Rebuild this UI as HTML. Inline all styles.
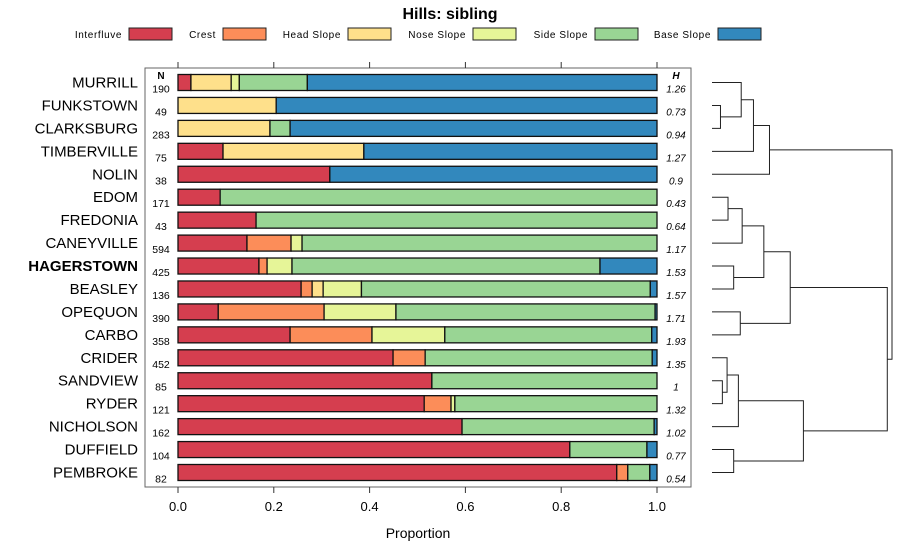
<!DOCTYPE html>
<html><head><meta charset="utf-8"><style>
body{margin:0;background:#fff;}
svg{display:block;font-family:"Liberation Sans",sans-serif;}
</style></head><body>
<svg id="chart" width="900" height="560" viewBox="0 0 900 560" xmlns="http://www.w3.org/2000/svg">
<text x="450" y="19" text-anchor="middle" font-size="16" font-weight="bold">Hills: sibling</text>
<g id="legend"></g>
<rect x="145" y="68" width="546" height="419" fill="none" stroke="#666" stroke-width="1"/>
<g id="bars"></g>
<g id="axis"></g>
<g id="dendro"></g>
<text x="418" y="538" text-anchor="middle" font-size="14">Proportion</text>
</svg>
<script>
const categories = ["Interfluve","Crest","Head Slope","Nose Slope","Side Slope","Base Slope"];
const colors = ["#d53e4f","#fc8d59","#fee08b","#e6f598","#99d594","#3288bd"];
const series = ["MURRILL","FUNKSTOWN","CLARKSBURG","TIMBERVILLE","NOLIN","EDOM","FREDONIA","CANEYVILLE","HAGERSTOWN","BEASLEY","OPEQUON","CARBO","CRIDER","SANDVIEW","RYDER","NICHOLSON","DUFFIELD","PEMBROKE"];
const nValues = [190,49,283,75,38,171,43,594,425,136,390,358,452,85,121,162,104,82];
const hValues = ["1.26","0.73","0.94","1.27","0.9","0.43","0.64","1.17","1.53","1.57","1.71","1.93","1.35","1","1.32","1.02","0.77","0.54"];
const proportions = [
 [0.027,0,0.084,0.017,0.142,0.730],
 [0,0,0.205,0,0,0.795],
 [0,0,0.192,0,0.042,0.766],
 [0.094,0,0.294,0,0,0.612],
 [0.317,0,0,0,0,0.683],
 [0.088,0,0,0,0.912,0],
 [0.163,0,0,0,0.837,0],
 [0.144,0.092,0,0.023,0.741,0],
 [0.169,0.017,0,0.052,0.643,0.119],
 [0.257,0.023,0.023,0.080,0.603,0.014],
 [0.084,0.221,0,0.150,0.541,0.004],
 [0.234,0.171,0,0.152,0.432,0.011],
 [0.449,0.067,0,0,0.474,0.010],
 [0.530,0,0,0,0.470,0],
 [0.514,0.056,0,0.008,0.422,0],
 [0.593,0,0,0,0.401,0.006],
 [0.818,0,0,0,0.161,0.021],
 [0.916,0.023,0,0,0.046,0.015]
];
const xTicks = [0,0.2,0.4,0.6,0.8,1.0];
const xTickLabels = ["0.0","0.2","0.4","0.6","0.8","1.0"];
// dendrogram merges: [left, right, height]; negative = leaf index (-(i+1)), positive = merge index (1-based)
const merges = [
 [-2,-3,0.09],[-1,1,0.31],[2,-4,0.44],[3,-5,0.61],
 [-6,-7,0.17],[5,-8,0.32],[-9,-10,0.23],[6,7,0.55],[-11,-12,0.30],[8,9,0.83],
 [-14,-15,0.11],[-13,11,0.16],[12,-16,0.28],[-17,-18,0.23],[13,14,0.97],[10,15,1.86],[4,16,1.91]
];
const NS="http://www.w3.org/2000/svg";
function mk(tag,attrs,parent){const e=document.createElementNS(NS,tag);for(const k in attrs)e.setAttribute(k,attrs[k]);parent.appendChild(e);return e;}
const x0=178,x1=657;
function xs(v){return x0+(x1-x0)*v;}
function ys(i){return 82.5+i*(472.5-82.5)/17;}
const leg=document.getElementById('legend');
const legX=[122,216,341,466,588,711];
categories.forEach((c,i)=>{
 const t=mk('text',{x:legX[i],y:38,'text-anchor':'end','font-size':10,'letter-spacing':0.6},leg);t.textContent=c;
 
 
 const r=mk('rect',{x:legX[i]+7,y:28,width:43,height:12,fill:colors[i],stroke:'#222','stroke-width':1},leg);
 
 
});
const bars=document.getElementById('bars');
const hn=mk('text',{x:161,y:79,'text-anchor':'middle','font-size':10,'font-weight':'bold'},bars);hn.textContent='N';


const hh=mk('text',{x:676,y:79,'text-anchor':'middle','font-size':10,'font-weight':'bold','font-style':'italic'},bars);hh.textContent='H';


series.forEach((s,i)=>{
 const y=ys(i);
 const l=mk('text',{x:138,y:y+5,'text-anchor':'end','font-size':15,'font-weight':s==='HAGERSTOWN'?'bold':'normal'},bars);l.textContent=s;
 
 
 const n=mk('text',{x:161,y:y+10,'text-anchor':'middle','font-size':10.5},bars);n.textContent=nValues[i];
 
 
 const h=mk('text',{x:676,y:y+10,'text-anchor':'middle','font-size':10,'font-style':'italic'},bars);h.textContent=hValues[i];
 
 
 let cum=0;
 proportions[i].forEach((p,k)=>{
  if(p<=0)return;
  const r=mk('rect',{x:xs(cum),y:y-8,width:xs(cum+p)-xs(cum),height:16,fill:colors[k],stroke:'#111','stroke-width':1.3},bars);
  
  
  cum+=p;
 });
});
const ax=document.getElementById('axis');
xTicks.forEach((v,i)=>{
 mk('line',{x1:xs(v),x2:xs(v),y1:487,y2:493,stroke:'#333'},ax);
 mk('line',{x1:xs(v),x2:xs(v),y1:62,y2:68,stroke:'#333'},ax);
 const t=mk('text',{x:xs(v),y:511,'text-anchor':'middle','font-size':13},ax);t.textContent=xTickLabels[i];
 
 
});
const dg=document.getElementById('dendro');
const dx0=712,dx1=892,hmax=1.91;
function dxs(h){return dx0+(dx1-dx0)*h/hmax;}
const nodes=[];
function nodePos(ref){ if(ref<0){return {x:dx0,y:ys(-ref-1)};} return nodes[ref-1]; }
merges.forEach(m=>{
 const a=nodePos(m[0]),b=nodePos(m[1]),hx=dxs(m[2]);
 const p=mk('path',{d:`M${a.x},${a.y}H${hx}V${b.y}H${b.x}`,fill:'none',stroke:'#222','stroke-width':1},dg);
 
 
 nodes.push({x:hx,y:(a.y+b.y)/2});
});
</script>
</body></html>
